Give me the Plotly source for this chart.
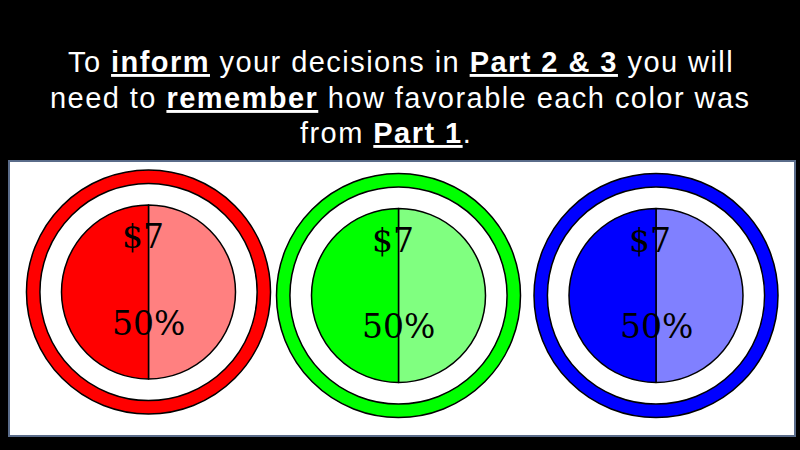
import plotly.graph_objects as go

# ---- data ----
colour_names = ["red", "green", "blue"]
payouts = ["$7", "$7", "$7"]
probabilities = [50, 50, 50]
dark_colours = ["#ff0000", "#00ff00", "#0000ff"]
light_colours = ["#ff8080", "#80ff80", "#8080ff"]

title_lines = [
    'To <b><u>inform</u></b> your decisions in <b><u>Part 2 &amp; 3</u></b> you will',
    'need to <b><u>remember</u></b> how favorable each color was',
    'from <b><u>Part 1</u></b>.',
]

# ---- layout constants (pixels) ----
W, H = 800, 450
centers = [(148.5, 292.0), (398.5, 295.5), (656.0, 295.5)]
ring_r = 122
pie_r = 87
ring_hole = 0.89


def px(x):
    return x / W


def py(y):
    return 1 - y / H


def domain(cx, cy, r):
    return dict(x=[px(cx - r), px(cx + r)], y=[py(cy + r), py(cy - r)])


fig = go.Figure()

for i, name in enumerate(colour_names):
    cx, cy = centers[i]
    # outer ring
    fig.add_trace(go.Pie(
        values=[100], labels=[name + " ring"], hole=ring_hole,
        marker=dict(colors=[dark_colours[i]], line=dict(color="black", width=1.5)),
        textinfo="none", hoverinfo="skip", sort=False, showlegend=False,
        domain=domain(cx, cy, ring_r),
    ))
    # inner probability pie
    p = probabilities[i]
    fig.add_trace(go.Pie(
        values=[100 - p, p], labels=[name + " lose", name + " win"],
        marker=dict(colors=[light_colours[i], dark_colours[i]],
                    line=dict(color="black", width=1.5)),
        direction="clockwise", rotation=0, sort=False,
        textinfo="none", hoverinfo="label+percent", showlegend=False,
        domain=domain(cx, cy, pie_r),
    ))
    fig.add_annotation(x=px(cx - 6), y=py(cy - 55), xref="paper", yref="paper",
                       xanchor="center", yanchor="middle",
                       text=payouts[i], showarrow=False,
                       font=dict(family="DejaVu Serif", size=33, color="black"))
    fig.add_annotation(x=px(cx), y=py(cy + 31), xref="paper", yref="paper",
                       xanchor="center", yanchor="middle",
                       text=f"{p}%", showarrow=False,
                       font=dict(family="DejaVu Serif", size=33, color="black"))

title_pos = [(401, 62), (399.5, 97.5), (385.5, 133)]
for (tx, ty), line in zip(title_pos, title_lines):
    fig.add_annotation(x=px(tx), y=py(ty), xref="paper", yref="paper",
                       xanchor="center", yanchor="middle",
                       text='<span style="letter-spacing:1.45px">' + line + '</span>',
                       showarrow=False,
                       font=dict(family="Liberation Sans", size=29, color="white"))

fig.update_layout(
    width=W, height=H, margin=dict(l=0, r=0, t=0, b=0),
    paper_bgcolor="black", plot_bgcolor="black",
    shapes=[dict(type="rect", xref="paper", yref="paper",
                 x0=px(9), x1=px(795), y0=py(436), y1=py(161),
                 fillcolor="white", line=dict(color="#5a6c8a", width=2),
                 layer="below")],
)

fig.write_html("out.html")
